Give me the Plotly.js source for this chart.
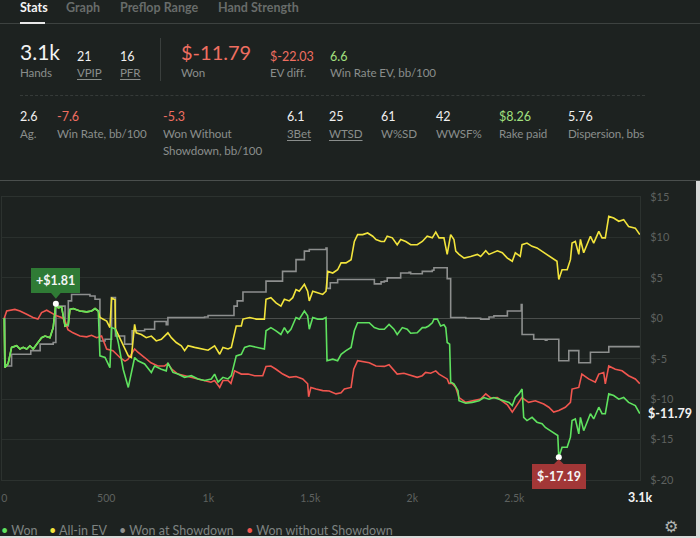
<!DOCTYPE html>
<html><head><meta charset="utf-8">
<script src="https://cdn.plot.ly/plotly-3.0.1.min.js"></script>
<style>
html,body{margin:0;padding:0}
body{background:#1d2220;width:700px;height:538px;overflow:hidden;position:relative;font-family:Lato,"Open Sans",sans-serif}
.t{position:absolute;white-space:nowrap;line-height:1}
.tab{top:2px;font-size:12.5px;font-weight:700;color:#686c6a}
.big{font-size:21px;color:#f2f2f2}
.v{font-size:12.5px;color:#f0f0f0}
.l{font-size:11.6px;color:#8a8e8c;letter-spacing:-0.1px}
.u{text-decoration:underline;text-underline-offset:2px}
.neg{color:#ef6e60}
.pos{color:#a2e07f}
#chart{position:absolute;left:0;top:181px;width:700px;height:357px}
</style></head><body>
<div class="t tab" style="left:20px;color:#f4f4f4">Stats</div>
<div class="t tab" style="left:66px">Graph</div>
<div class="t tab" style="left:120px">Preflop Range</div>
<div class="t tab" style="left:218px">Hand Strength</div>
<div style="position:absolute;left:0;top:23px;width:700px;height:1px;background:#3d4240"></div>
<div style="position:absolute;left:20px;top:22px;width:25px;height:2px;background:#e8e8e8"></div>

<div class="t big" style="left:20px;top:41px">3.1k</div>
<div class="t l" style="left:20px;top:67px">Hands</div>
<div class="t v" style="left:77px;top:51px">21</div>
<div class="t l u" style="left:77px;top:67px">VPIP</div>
<div class="t v" style="left:120px;top:51px">16</div>
<div class="t l u" style="left:120px;top:67px">PFR</div>
<div style="position:absolute;left:160px;top:38px;width:1px;height:43px;background:#3a3f3d"></div>
<div class="t big neg" style="left:181px;top:42px;font-size:20px">$-11.79</div>
<div class="t l" style="left:181px;top:67px">Won</div>
<div class="t v neg" style="left:270px;top:51px">$-22.03</div>
<div class="t l" style="left:270px;top:67px">EV diff.</div>
<div class="t v pos" style="left:330px;top:51px">6.6</div>
<div class="t l" style="left:330px;top:67px">Win Rate EV, bb/100</div>
<div style="position:absolute;left:20px;top:95px;width:625px;height:0;border-top:1px dashed #363b39"></div>

<div class="t v" style="left:20px;top:111px">2.6</div>
<div class="t l" style="left:20px;top:128px">Ag.</div>
<div class="t v neg" style="left:57px;top:111px">-7.6</div>
<div class="t l" style="left:57px;top:128px">Win Rate, bb/100</div>
<div class="t v neg" style="left:163px;top:111px">-5.3</div>
<div class="t l" style="left:163px;top:128px">Won Without</div>
<div class="t l" style="left:163px;top:145px">Showdown, bb/100</div>
<div class="t v" style="left:287px;top:111px">6.1</div>
<div class="t l u" style="left:287px;top:128px">3Bet</div>
<div class="t v" style="left:329px;top:111px">25</div>
<div class="t l u" style="left:329px;top:128px">WTSD</div>
<div class="t v" style="left:381px;top:111px">61</div>
<div class="t l" style="left:381px;top:128px">W%SD</div>
<div class="t v" style="left:436px;top:111px">42</div>
<div class="t l" style="left:436px;top:128px">WWSF%</div>
<div class="t v pos" style="left:499px;top:111px">$8.26</div>
<div class="t l" style="left:499px;top:128px">Rake paid</div>
<div class="t v" style="left:568px;top:111px">5.76</div>
<div class="t l" style="left:568px;top:128px">Dispersion, bbs</div>

<div style="position:absolute;left:0;top:180px;width:700px;height:1px;background:#4a4f4d"></div>
<div id="chart"></div>
<div class="t" style="left:664px;top:519px;font-size:16px;color:#b0b4b2;font-family:'DejaVu Sans'">⚙</div>
<div style="position:absolute;left:696px;top:181px;width:4px;height:357px;background:#d9dbda"></div>
<div style="position:absolute;left:0;top:536px;width:700px;height:2px;background:#d9dbda"></div>

<script>
// Hands played vs cumulative dollars
const won = [[0,0],[3,-6.1],[19,-5.6],[36,-3.6],[61,-3.4],[77,-3.8],[93,-3.6],[110,-3.8],[126,-3.4],[142,-3.8],
[159,-3.2],[183,-2.4],[200,-2.2],[224,-2.4],[240,-1.15],[253,1.81],[265,1.3],[281,1.4],[298,-0.95],[314,-0.75],
[322,1.1],[338,1.2],[371,0.9],[404,0.8],[428,0.9],[445,1.2],[461,0.9],[469,-4.65],[494,-4.85],[518,-6.1],
[526,-1.15],[543,-1.3],[559,-3.0],[583,-6.3],[608,-8.55],[623,-6.9],[639,-4.85],[655,-5.25],[688,-5.65],[721,-6.7],
[737,-5.9],[770,-6.3],[794,-6.5],[802,-5.5],[827,-6.7],[851,-6.9],[884,-7.3],[917,-7.1],[950,-7.5],[982,-7.7],
[1015,-7.5],[1031,-6.9],[1048,-7.9],[1072,-7.3],[1097,-7.5],[1113,-7.1],[1126,-5.9],[1137,-4.65],[1162,-4.45],[1178,-3.6],
[1203,-3.4],[1235,-3.6],[1275,-3.8],[1283,-1.55],[1307,-1.15],[1332,-1.55],[1356,-2.0],[1373,-1.15],[1389,-1.8],[1405,-1.35],
[1430,0.1],[1446,-0.1],[1471,0.9],[1487,0.3],[1495,-1.35],[1512,0.1],[1536,-0.1],[1561,-0.1],[1577,0.1],[1582,-5.25],
[1610,-5.05],[1634,-5.25],[1651,-4.45],[1675,-4.0],[1700,-3.6],[1716,-1.55],[1732,-0.55],[1757,-0.55],[1789,-0.55],[1814,-1.15],
[1838,-1.35],[1863,-1.35],[1886,-0.75],[1910,-1.35],[1926,-2.0],[1951,-1.15],[1975,-1.35],[1992,-1.85],[2024,-1.8],[2049,-1.15],
[2065,-1.15],[2080,-0.95],[2098,-0.55],[2106,-0.1],[2123,-0.1],[2139,-0.95],[2155,-0.8],[2164,-1.15],[2171,-3.0],[2183,-3.2],
[2188,-7.9],[2204,-8.1],[2224,-8.95],[2229,-10.2],[2262,-10.5],[2294,-10.4],[2327,-10.2],[2351,-9.8],[2376,-10.0],[2400,-9.8],
[2425,-10.0],[2450,-10.2],[2474,-10.4],[2490,-10.8],[2505,-9.8],[2522,-9.35],[2538,-8.75],[2546,-12.25],[2562,-12.65],[2587,-12.25],
[2611,-12.85],[2636,-13.05],[2652,-13.5],[2676,-13.9],[2701,-14.3],[2713,-14.5],[2718,-17.19],[2734,-15.95],[2759,-15.95],[2775,-14.7],
[2783,-12.65],[2799,-12.45],[2816,-14.3],[2824,-12.25],[2840,-13.9],[2856,-12.85],[2873,-11.8],[2889,-12.45],[2914,-11.0],[2930,-11.8],
[2946,-11.8],[2963,-9.35],[2987,-9.55],[3012,-10.0],[3036,-9.8],[3060,-10.4],[3093,-10.8],[3115,-11.79]];

const allInEV = [[0,0],[3,-6.1],[19,-5.6],[36,-3.6],[61,-3.4],[77,-3.8],[93,-3.6],[110,-3.8],[126,-3.4],[142,-3.8],
[159,-3.2],[183,-2.4],[200,-2.2],[224,-2.4],[240,-1.15],[253,1.81],[265,1.3],[281,1.4],[298,-0.95],[314,-0.75],
[322,1.1],[338,1.2],[371,0.9],[404,0.8],[428,0.9],[445,1.2],[461,0.9],[469,0.1],[502,-0.35],[518,-1.15],
[526,2.5],[543,2.3],[545,-1.3],[559,-2.0],[583,-3.2],[608,-4.65],[623,-4.85],[639,-0.75],[647,-1.8],[672,-2.0],
[696,-2.4],[721,-2.2],[745,-2.8],[770,-2.6],[802,-1.8],[819,-2.4],[843,-3.0],[868,-3.4],[884,-4.0],[901,-3.4],
[933,-3.6],[966,-3.8],[999,-3.95],[1031,-3.4],[1056,-4.45],[1072,-3.6],[1097,-3.8],[1113,-3.6],[1126,-2.2],[1137,-0.95],
[1162,-0.95],[1170,-0.1],[1203,0.1],[1235,-0.1],[1275,-0.1],[1283,2.35],[1307,2.55],[1332,1.9],[1356,1.5],[1373,2.35],
[1397,2.15],[1414,2.55],[1430,3.55],[1446,3.35],[1471,4.2],[1487,3.35],[1495,2.15],[1512,3.35],[1536,3.15],[1561,2.95],
[1577,3.35],[1586,5.8],[1610,5.6],[1634,6.0],[1651,6.85],[1675,6.85],[1700,7.25],[1716,9.5],[1732,10.35],[1757,10.35],
[1781,10.55],[1806,10.15],[1822,9.75],[1847,9.5],[1863,9.5],[1877,10.15],[1902,9.95],[1926,9.1],[1943,9.75],[1968,9.5],
[1992,9.1],[2024,9.1],[2049,9.5],[2073,10.15],[2098,9.95],[2115,10.65],[2131,9.95],[2155,9.95],[2171,7.9],[2188,10.35],
[2204,9.75],[2213,8.3],[2229,7.9],[2254,7.45],[2286,7.65],[2319,7.9],[2335,7.65],[2360,8.35],[2376,7.9],[2392,8.1],
[2417,8.35],[2441,8.1],[2466,7.45],[2490,7.05],[2505,8.1],[2529,7.65],[2538,9.1],[2562,9.3],[2587,8.9],[2611,8.7],
[2636,8.3],[2660,7.9],[2685,7.45],[2709,7.05],[2718,4.8],[2734,6.0],[2759,6.0],[2775,7.25],[2783,9.3],[2799,9.5],
[2816,7.9],[2824,9.75],[2840,8.1],[2856,9.1],[2873,10.15],[2889,9.3],[2914,10.75],[2930,9.95],[2946,9.95],[2963,12.6],
[2987,12.4],[3012,12.0],[3036,12.2],[3060,11.35],[3093,11.15],[3115,10.35]];

const wonAtShowdown = [[0,0],[3,-5.9],[36,-4.45],[130,-4.0],[176,-3.2],[240,-3.0],[253,1.5],[298,-0.95],[314,2.15],[330,2.95],
[420,2.75],[445,2.35],[469,-2.8],[494,-2.6],[526,2.55],[545,-2.2],[590,-3.2],[627,-1.55],[688,-1.35],[737,-0.4],
[794,-0.8],[802,0.1],[982,0.15],[999,0.35],[1126,1.5],[1142,2.15],[1170,3.25],[1283,4.6],[1364,5.8],[1430,7.25],
[1471,8.3],[1495,8.5],[1577,8.7],[1582,3.7],[1598,4.4],[1634,4.8],[1814,4.25],[1847,4.5],[1863,4.6],[1877,5.0],
[1943,5.6],[1984,5.7],[1992,5.5],[2049,5.8],[2098,5.95],[2106,6.25],[2171,4.9],[2188,0.1],[2262,0.0],[2335,-0.1],
[2376,0.15],[2400,0.3],[2466,0.9],[2534,1.7],[2538,-2.0],[2595,-2.6],[2652,-2.7],[2660,-2.6],[2718,-5.25],[2767,-4.0],
[2816,-5.5],[2873,-4.2],[2963,-3.5],[3115,-3.5]];

const wonWithoutShowdown = [[0,0],[12,0.9],[52,1.1],[77,0.9],[110,0.5],[141,0.1],[165,-0.1],[183,0.7],[208,1.0],[239,0.5],
[257,0.3],[281,0.1],[298,-0.3],[312,-1.4],[337,-1.8],[371,-2.2],[404,-2.3],[428,-2.1],[453,-2.4],[477,-2.2],
[502,-3.8],[533,-4.0],[567,-4.85],[592,-5.3],[606,-5.1],[639,-3.8],[655,-4.2],[688,-4.85],[719,-5.5],[753,-5.9],
[786,-5.9],[802,-5.6],[821,-6.3],[851,-6.9],[884,-7.1],[917,-7.3],[950,-7.5],[982,-7.7],[1013,-7.9],[1031,-7.7],
[1056,-8.55],[1072,-7.7],[1097,-7.7],[1111,-8.05],[1129,-6.5],[1162,-6.9],[1195,-6.9],[1227,-7.1],[1267,-7.1],[1283,-5.95],
[1307,-5.9],[1332,-6.3],[1365,-6.9],[1397,-7.3],[1430,-7.2],[1463,-7.5],[1487,-8.1],[1492,-9.7],[1503,-8.55],[1528,-8.75],
[1561,-8.95],[1593,-9.0],[1626,-9.35],[1651,-9.2],[1667,-8.75],[1700,-8.55],[1713,-6.3],[1732,-5.25],[1757,-5.35],[1789,-5.5],
[1822,-5.9],[1863,-5.95],[1886,-5.75],[1910,-6.5],[1926,-6.9],[1959,-6.8],[1992,-7.1],[2024,-7.3],[2049,-7.1],[2065,-6.7],
[2090,-6.8],[2115,-6.5],[2131,-6.9],[2155,-7.2],[2171,-7.5],[2180,-8.05],[2196,-8.05],[2213,-8.55],[2229,-9.8],[2262,-10.4],
[2304,-10.2],[2335,-10.0],[2360,-9.35],[2384,-9.85],[2417,-9.8],[2441,-10.2],[2466,-10.7],[2490,-11.6],[2505,-11.0],[2537,-9.8],
[2570,-10.4],[2603,-10.2],[2644,-10.6],[2669,-11.0],[2693,-11.6],[2718,-11.4],[2750,-11.0],[2775,-10.4],[2783,-8.75],[2816,-8.55],
[2831,-6.9],[2864,-7.5],[2897,-7.9],[2914,-6.9],[2938,-6.7],[2946,-8.1],[2963,-5.9],[2995,-6.3],[3028,-6.5],[3060,-7.1],
[3093,-7.5],[3115,-8.1]];

const seriesNames = ['Won', 'All-in EV', 'Won at Showdown', 'Won without Showdown'];
const seriesColors = ['#5fe25f', '#f2e43c', '#8d8f8e', '#f0564f'];
const xTickVals = [0, 500, 1000, 1500, 2000, 2500];
const xTickText = ['0', '500', '1k', '1.5k', '2k', '2.5k'];
const yTickVals = [-20, -15, -10, -5, 0, 5, 10, 15];
const yTickText = ['$-20', '$-15', '$-10', '$-5', '$0', '$5', '$10', '$15'];
const totalHandsLabel = '3.1k';

const X = a => a.map(p => p[0]);
const Y = a => a.map(p => p[1]);

const wonY = Y(won), wonX = X(won);
let iMax = 0, iMin = 0;
wonY.forEach((v, i) => { if (v > wonY[iMax]) iMax = i; if (v < wonY[iMin]) iMin = i; });
const lastX = wonX[wonX.length - 1], lastY = wonY[wonY.length - 1];

const lw = 1.6;
const traces = [
  {x: X(wonAtShowdown), y: Y(wonAtShowdown), name: seriesNames[2], mode: 'lines', line: {color: seriesColors[2], width: lw, shape: 'hv'}},
  {x: X(wonWithoutShowdown), y: Y(wonWithoutShowdown), name: seriesNames[3], mode: 'lines', line: {color: seriesColors[3], width: lw}},
  {x: X(allInEV), y: Y(allInEV), name: seriesNames[1], mode: 'lines', line: {color: seriesColors[1], width: lw}},
  {x: wonX, y: wonY, name: seriesNames[0], mode: 'lines', line: {color: seriesColors[0], width: lw}},
  {x: [wonX[iMax], wonX[iMin]], y: [wonY[iMax], wonY[iMin]], mode: 'markers', marker: {color: '#ffffff', size: 6}, hoverinfo: 'skip'}
];

const W = 700, ml = 2, mr = 60, H = 357, mt = 16, mb = 58;
const pw = W - ml - mr, ph = H - mt - mb;
const px = v => (v - ml) / pw;            // page pixel x -> paper
const py = v => (ph + mt - (v - 181)) / ph; // page pixel y -> paper

const fnt = 'Lato, "Open Sans", sans-serif';
const ann = [];
const legendX = [4, 52, 122, 249];
seriesNames.forEach((n, i) => {
  ann.push({xref: 'paper', yref: 'paper', x: px(legendX[i] - 5), y: py(530), xanchor: 'left', yanchor: 'middle', showarrow: false,
    text: '<span style="color:' + seriesColors[i] + '">•</span> ' + n, font: {family: fnt, size: 12.5, color: '#7e8280'}});
});
ann.push({x: wonX[iMax], y: wonY[iMax], xref: 'x', yref: 'y', yanchor: 'bottom', yshift: 11, showarrow: false,
  text: '<b>+$' + wonY[iMax].toFixed(2) + '</b>', bgcolor: '#2f7b35', borderpad: 5, borderwidth: 0,
  font: {family: fnt, size: 12.5, color: '#f4f4f4'}});
ann.push({x: wonX[iMin], y: wonY[iMin], xref: 'x', yref: 'y', yanchor: 'top', yshift: -7, showarrow: false,
  text: '<b>$' + wonY[iMin].toFixed(2) + '</b>', bgcolor: '#a23737', borderpad: 5, borderwidth: 0,
  font: {family: fnt, size: 12.5, color: '#f4f4f4'}});
ann.push({x: lastX, y: lastY, xref: 'x', yref: 'y', xanchor: 'left', xshift: 6, showarrow: false,
  text: '<b>$' + lastY.toFixed(2) + '</b>', font: {family: fnt, size: 12.5, color: '#f2f2f2'}});
ann.push({x: lastX, y: py(497), xref: 'x', yref: 'paper', xanchor: 'center', yanchor: 'middle', showarrow: false,
  text: '<b>' + totalHandsLabel + '</b>', font: {family: fnt, size: 12.5, color: '#f2f2f2'}});

const shapes = [
  {type: 'path', xref: 'x', yref: 'y', xsizemode: 'pixel', ysizemode: 'pixel', xanchor: wonX[iMax], yanchor: wonY[iMax],
   path: 'M -5 11 L 5 11 L 0 5 Z', fillcolor: '#2f7b35', line: {width: 0}},
  {type: 'path', xref: 'x', yref: 'y', xsizemode: 'pixel', ysizemode: 'pixel', xanchor: wonX[iMin], yanchor: wonY[iMin],
   path: 'M -5 -7 L 5 -7 L 0 -2 Z', fillcolor: '#a23737', line: {width: 0}}
];

const layout = {
  width: W, height: H, margin: {l: ml, r: mr, t: mt, b: mb},
  paper_bgcolor: 'rgba(0,0,0,0)', plot_bgcolor: 'rgba(0,0,0,0)',
  showlegend: false,
  font: {family: fnt},
  xaxis: {range: [-11, 3116], tickvals: xTickVals, ticktext: xTickText, showgrid: false, zeroline: false,
    showline: true, mirror: true, linecolor: '#2c322f', linewidth: 1, ticks: '', ticklabelstandoff: 8,
    tickfont: {family: fnt, size: 10.5, color: '#5d615f'}},
  yaxis: {range: [-20, 15], side: 'right', tickvals: yTickVals, ticktext: yTickText, gridcolor: '#2a302d', gridwidth: 1,
    zeroline: true, zerolinecolor: '#4a4e4c', zerolinewidth: 1.5, showline: true, mirror: true, linecolor: '#2c322f',
    ticks: '', ticklabelstandoff: 7, tickfont: {family: fnt, size: 11, color: '#5d615f'}},
  annotations: ann, shapes: shapes
};
Plotly.newPlot('chart', traces, layout, {displayModeBar: false, staticPlot: true});
</script>
</body></html>
